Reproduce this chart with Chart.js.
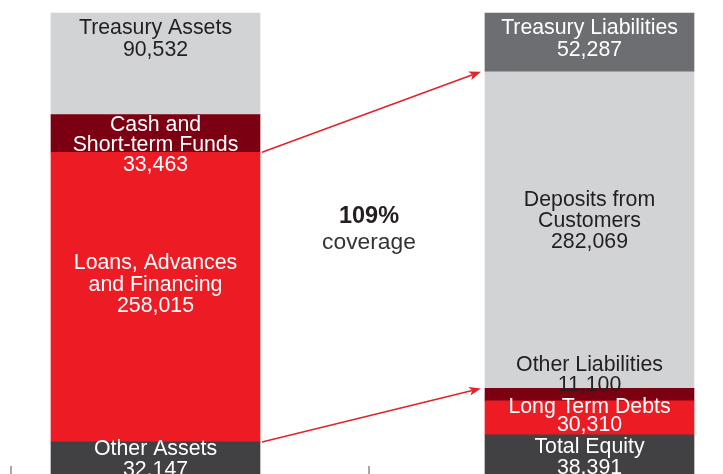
<!DOCTYPE html>
<html>
<head>
<meta charset="utf-8">
<script src="https://cdn.jsdelivr.net/npm/chart.js@4"></script>
<style>
    html, body { margin: 0; padding: 0; overflow: hidden; background: #fff; }
    #wrap { position: relative; width: 723px; height: 478px; }
</style>
</head>
<body>
<div id="wrap"><canvas id="balanceChart"></canvas></div>
<script>
// segments listed bottom to top
const sides = ['Assets', 'Liabilities and Equity'];
const assetNames = [['Other Assets'], ['Loans, Advances', 'and Financing'], ['Cash and', 'Short-term Funds'], ['Treasury Assets']];
const assetValues = [32147, 258015, 33463, 90532];
const liabilityNames = [['Total Equity'], ['Long Term Debts'], ['Other Liabilities'], ['Deposits from', 'Customers'], ['Treasury Liabilities']];
const liabilityValues = [38391, 30310, 11100, 282069, 52287];
const coverageText = ['109%', 'coverage'];

// styling
const segColors = ['#414042', '#ed1c24', '#7a0012', '#d1d3d4', '#6d6e71'];
const FONT = '"Liberation Sans", Arial, Helvetica, sans-serif';
// [offset of first line from segment top, line gap, text colour]
const assetLabelPos = [[5.5, 21, '#fff'], [109.5, 21.5, '#fff'], [9, 19.7, '#fff'], [13.3, 22, '#231f20']];
const liabilityLabelPos = [[11, 21, '#fff'], [5, 18, '#fff'], [-25, 20, '#231f20'], [126.5, 21.2, '#231f20'], [13.5, 22, '#fff']];
// arrow: from top of asset segment -> top of liability segment
const arrows = [[1, 3], [0, 2]];

const total = assetValues.reduce((a, b) => a + b, 0);
const levels = Math.max(assetValues.length, liabilityValues.length);

const datasets = [];
for (let k = 0; k < levels; k++) {
    datasets.push({
        data: [assetValues[k] ?? null, liabilityValues[k] ?? null],
        backgroundColor: segColors[k],
        borderWidth: 0,
        barThickness: 209,
        clip: false
    });
}

const segmentLabels = {
    id: 'segmentLabels',
    afterDatasetsDraw(chart) {
        const ctx = chart.ctx;
        ctx.save();
        ctx.font = '21.3px ' + FONT;
        ctx.textAlign = 'center';
        ctx.textBaseline = 'alphabetic';
        [[assetNames, assetValues, assetLabelPos], [liabilityNames, liabilityValues, liabilityLabelPos]].forEach(([names, vals, pos], j) => {
            names.forEach((name, k) => {
                const el = chart.getDatasetMeta(k).data[j];
                const top = Math.min(el.y, el.base);
                const lines = name.concat([vals[k].toLocaleString('en-US')]);
                ctx.fillStyle = pos[k][2];
                lines.forEach((t, i) => {
                    ctx.fillText(t, el.x, top + pos[k][0] + i * pos[k][1] + 7.6);
                });
            });
        });

        // arrows
        ctx.strokeStyle = '#e3222a';
        ctx.fillStyle = '#e3222a';
        ctx.lineWidth = 1.6;
        arrows.forEach(([a, b]) => {
            const e1 = chart.getDatasetMeta(a).data[0];
            const e2 = chart.getDatasetMeta(b).data[1];
            const x1 = e1.x + e1.width / 2 + 2, y1 = e1.y;
            const x2 = e2.x - e2.width / 2 - 4, y2 = e2.y;
            const ang = Math.atan2(y2 - y1, x2 - x1);
            const hl = 12, hw = 4.5;
            const bx = x2 - hl * Math.cos(ang), by = y2 - hl * Math.sin(ang);
            ctx.beginPath();
            ctx.moveTo(x1, y1);
            ctx.lineTo(bx + 3 * Math.cos(ang), by + 3 * Math.sin(ang));
            ctx.stroke();
            ctx.beginPath();
            ctx.moveTo(x2, y2);
            ctx.lineTo(bx - hw * Math.sin(ang), by + hw * Math.cos(ang));
            ctx.lineTo(bx + 3 * Math.cos(ang), by + 3 * Math.sin(ang));
            ctx.lineTo(bx + hw * Math.sin(ang), by - hw * Math.cos(ang));
            ctx.closePath();
            ctx.fill();
        });

        // coverage note
        ctx.fillStyle = '#231f20';
        ctx.font = 'bold 23.5px ' + FONT;
        ctx.fillText(coverageText[0], 369, 222.7);
        ctx.fillStyle = '#333';
        ctx.font = '22.8px ' + FONT;
        ctx.fillText(coverageText[1], 369, 249.3);

        // small axis ticks
        ctx.strokeStyle = '#6d6e71';
        ctx.lineWidth = 1.2;
        [11, 369].forEach(x => {
            ctx.beginPath();
            ctx.moveTo(x, 466);
            ctx.lineTo(x, 476);
            ctx.stroke();
        });
        ctx.restore();
    }
};

new Chart(document.getElementById('balanceChart'), {
    type: 'bar',
    data: {
        labels: sides,
        datasets: datasets
    },
    options: {
        responsive: true,
        maintainAspectRatio: false,
        animation: false,
        layout: {
            padding: { top: 13, left: 155.5, right: 133.5, bottom: 0 }
        },
        plugins: {
            legend: { display: false },
            tooltip: { enabled: false }
        },
        scales: {
            x: { stacked: true, offset: false, display: false },
            y: { stacked: true, min: 0, max: total, display: false }
        }
    },
    plugins: [segmentLabels]
});
</script>
</body>
</html>
